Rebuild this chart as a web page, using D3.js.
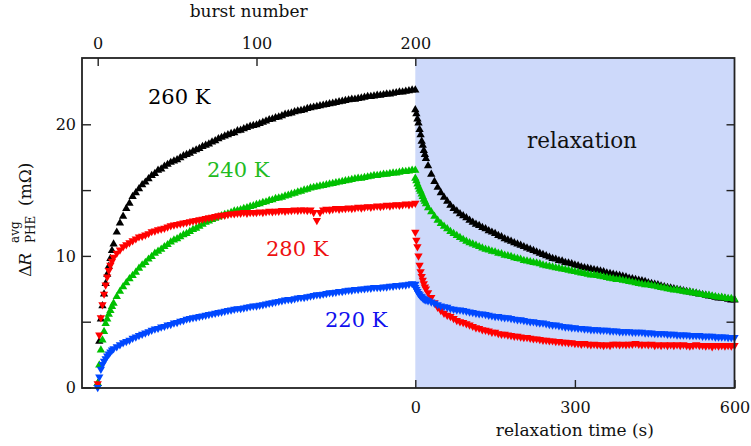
<!DOCTYPE html>
<html>
<head>
<meta charset="utf-8">
<script src="https://cdn.jsdelivr.net/npm/d3@7"></script>
<style>
  html, body { margin: 0; padding: 0; background: #fff; }
  svg { display: block; }
  text { font-family: "DejaVu Serif", serif; }
</style>
</head>
<body>
<svg id="chart" width="751" height="446"></svg>
<script>
// ---- data ----------------------------------------------------------------
// burst numbers at which the averaged PHE change was recorded
const bursts = [
  0,1,2,3,4,5,6,7,8,9,10,
  12,14,16,18,20,22,24,26,28,30,
  32,34,36,38,40,42,44,46,48,50,
  52,54,56,58,60,62,64,66,68,70,
  72,74,76,78,80,82,84,86,88,90,
  92,94,96,98,100,102,104,106,108,110,
  112,114,116,118,120,122,124,126,128,130,
  132,134,136,138,140,142,144,146,148,150,
  152,154,156,158,160,162,164,166,168,170,
  172,174,176,178,180,182,184,186,188,190,
  192,194,196,198,200
];
// relaxation times (s) after the last burst
const relaxTimes = [
  0,2,4,6,8,10,12,14,16,18,20,
  24,30,36,42,48,54,60,66,72,78,
  84,90,96,102,108,114,120,126,132,138,
  144,150,156,162,168,174,180,186,192,198,
  204,210,216,222,228,234,240,246,252,258,
  264,270,276,282,288,294,300,306,312,318,
  324,330,336,342,348,354,360,366,372,378,
  384,390,396,402,408,414,420,426,432,438,
  444,450,456,462,468,474,480,486,492,498,
  504,510,516,522,528,534,540,546,552,558,
  564,570,576,582,588,594,600
];

// ΔR (mΩ) during bursts
const burst260 = [
  0.3,3.5,5.2,6.2,7.1,7.9,8.6,9.2,9.8,10.4,10.9,
  11.8,12.5,13.0,13.6,14.0,14.5,14.8,15.1,15.4,15.6,
  15.85,16.1,16.25,16.5,16.6,16.8,16.95,17.1,17.2,17.3,
  17.45,17.6,17.7,17.8,17.95,18.05,18.15,18.3,18.4,18.5,
  18.65,18.75,18.9,19.0,19.1,19.2,19.3,19.35,19.5,19.55,
  19.65,19.75,19.85,19.9,19.95,20.05,20.15,20.25,20.35,20.4,
  20.5,20.55,20.65,20.75,20.8,20.85,20.95,21.0,21.05,21.1,
  21.2,21.25,21.3,21.35,21.4,21.45,21.5,21.55,21.6,21.65,
  21.7,21.75,21.8,21.85,21.9,21.9,21.95,22.0,22.05,22.1,
  22.1,22.15,22.2,22.2,22.25,22.3,22.3,22.35,22.4,22.45,
  22.45,22.5,22.55,22.6,22.6
];
const burst240 = [
  0.3,1.7,2.85,3.6,4.25,4.85,5.2,5.55,5.85,6.15,6.4,
  6.9,7.3,7.65,7.95,8.25,8.5,8.75,9.05,9.3,9.5,
  9.75,9.95,10.2,10.35,10.5,10.7,10.85,11.05,11.2,11.3,
  11.45,11.6,11.7,11.85,12.0,12.1,12.25,12.4,12.55,12.65,
  12.75,12.85,12.95,13.05,13.15,13.2,13.3,13.4,13.45,13.5,
  13.6,13.65,13.75,13.8,13.9,13.95,14.05,14.1,14.2,14.25,
  14.35,14.4,14.45,14.55,14.6,14.7,14.75,14.85,14.9,15.0,
  15.05,15.15,15.2,15.25,15.3,15.35,15.4,15.45,15.5,15.55,
  15.6,15.65,15.7,15.75,15.8,15.85,15.9,15.9,15.95,16.0,
  16.05,16.1,16.1,16.15,16.2,16.2,16.25,16.3,16.3,16.35,
  16.4,16.4,16.45,16.5,16.5
];
const burst280 = [
  0.3,4.0,5.3,6.3,7.1,7.8,8.4,8.9,9.3,9.6,9.9,
  10.2,10.45,10.7,10.85,11.0,11.15,11.3,11.45,11.5,11.6,
  11.7,11.85,11.9,12.0,12.05,12.1,12.2,12.3,12.35,12.4,
  12.45,12.5,12.55,12.6,12.65,12.7,12.75,12.8,12.85,12.9,
  12.95,13.0,13.05,13.1,13.1,13.15,13.2,13.2,13.25,13.25,
  13.3,13.25,13.3,13.3,13.3,13.35,13.3,13.35,13.4,13.35,
  13.4,13.4,13.45,13.4,13.45,13.45,13.5,13.45,13.5,13.5,
  13.45,13.5,13.3,12.7,13.3,13.5,13.55,13.5,13.55,13.6,
  13.55,13.6,13.6,13.65,13.6,13.65,13.7,13.65,13.7,13.75,
  13.7,13.75,13.8,13.75,13.8,13.85,13.8,13.85,13.9,13.85,
  13.9,13.95,13.9,13.95,14.0
];
const burst220 = [
  0.0,0.8,1.4,1.75,2.0,2.2,2.4,2.55,2.7,2.85,2.95,
  3.1,3.25,3.4,3.5,3.6,3.75,3.85,3.95,4.05,4.15,
  4.25,4.35,4.45,4.5,4.6,4.65,4.75,4.8,4.9,4.95,
  5.05,5.1,5.2,5.25,5.3,5.35,5.4,5.45,5.5,5.55,
  5.6,5.65,5.7,5.75,5.8,5.85,5.9,5.95,6.0,6.0,
  6.05,6.1,6.15,6.2,6.2,6.25,6.3,6.35,6.4,6.45,
  6.5,6.55,6.6,6.65,6.7,6.7,6.75,6.8,6.85,6.85,
  6.9,6.95,7.0,7.05,7.05,7.1,7.15,7.2,7.2,7.25,
  7.3,7.3,7.35,7.4,7.4,7.45,7.45,7.5,7.5,7.55,
  7.55,7.6,7.6,7.6,7.65,7.65,7.7,7.7,7.75,7.75,
  7.8,7.8,7.85,7.9,7.85
];

// ΔR (mΩ) during relaxation
const relax260 = [
  21.1,20.8,20.4,20.1,19.6,19.2,18.7,18.4,18.0,17.7,17.4,
  16.85,16.2,15.65,15.2,14.8,14.45,14.15,13.85,13.6,13.4,
  13.2,13.05,12.9,12.7,12.55,12.4,12.3,12.15,12.05,11.9,
  11.8,11.7,11.55,11.45,11.3,11.2,11.1,11.0,10.9,10.8,
  10.7,10.6,10.5,10.4,10.3,10.2,10.1,10.0,9.9,9.8,
  9.75,9.65,9.6,9.5,9.45,9.4,9.3,9.25,9.15,9.1,
  9.05,9.0,8.95,8.9,8.85,8.8,8.7,8.65,8.6,8.55,
  8.5,8.45,8.4,8.3,8.25,8.2,8.15,8.1,8.05,7.95,
  7.9,7.85,7.8,7.7,7.65,7.6,7.55,7.5,7.45,7.4,
  7.35,7.3,7.25,7.2,7.15,7.1,7.05,7.0,6.95,6.9,
  6.85,6.8,6.8,6.75,6.7,6.65,6.65
];
const relax240 = [
  15.9,15.7,15.45,15.25,15.05,14.9,14.7,14.5,14.3,14.15,13.95,
  13.65,13.35,13.0,12.7,12.45,12.25,12.05,11.85,11.7,11.55,
  11.4,11.25,11.1,11.0,10.9,10.8,10.7,10.6,10.5,10.45,
  10.35,10.3,10.2,10.15,10.05,10.0,9.95,9.85,9.8,9.75,
  9.65,9.6,9.55,9.5,9.45,9.4,9.3,9.25,9.2,9.15,
  9.1,9.05,9.0,8.95,8.9,8.85,8.8,8.75,8.7,8.65,
  8.6,8.55,8.55,8.5,8.45,8.4,8.35,8.3,8.25,8.2,
  8.2,8.15,8.1,8.05,8.0,7.95,7.9,7.85,7.8,7.8,
  7.75,7.7,7.65,7.6,7.55,7.5,7.45,7.4,7.4,7.35,
  7.3,7.25,7.25,7.2,7.15,7.1,7.05,7.0,7.0,6.95,
  6.9,6.85,6.85,6.8,6.75,6.75,6.7
];
const relax280 = [
  11.8,11.2,10.7,10.0,9.3,8.8,8.45,8.15,7.9,7.65,7.5,
  7.2,6.85,6.45,6.1,5.85,5.65,5.5,5.4,5.25,5.1,
  5.0,4.95,4.85,4.75,4.65,4.55,4.5,4.4,4.35,4.3,
  4.2,4.2,4.1,4.05,4.05,4.0,3.95,3.9,3.9,3.85,
  3.8,3.8,3.75,3.7,3.7,3.65,3.6,3.6,3.55,3.55,
  3.5,3.5,3.45,3.45,3.4,3.4,3.35,3.35,3.3,3.35,
  3.3,3.25,3.3,3.25,3.25,3.2,3.25,3.2,3.3,3.3,
  3.25,3.3,3.25,3.3,3.3,3.35,3.3,3.25,3.3,3.25,
  3.3,3.2,3.25,3.2,3.25,3.2,3.25,3.2,3.25,3.2,
  3.25,3.2,3.15,3.2,3.25,3.2,3.2,3.15,3.2,3.1,
  3.2,3.15,3.2,3.15,3.2,3.15,3.2
];
const relax220 = [
  7.6,7.45,7.3,7.15,7.05,6.95,6.9,6.8,6.75,6.7,6.65,
  6.6,6.5,6.4,6.3,6.2,6.15,6.1,6.0,5.95,5.9,
  5.9,5.85,5.8,5.75,5.7,5.65,5.6,5.6,5.55,5.5,
  5.45,5.4,5.4,5.35,5.3,5.3,5.25,5.2,5.15,5.15,
  5.1,5.05,5.0,5.0,4.95,4.9,4.9,4.85,4.8,4.75,
  4.75,4.7,4.65,4.6,4.6,4.55,4.55,4.5,4.5,4.45,
  4.45,4.4,4.4,4.4,4.35,4.35,4.35,4.3,4.3,4.3,
  4.25,4.25,4.25,4.25,4.2,4.2,4.2,4.2,4.15,4.15,
  4.15,4.1,4.1,4.1,4.1,4.05,4.05,4.05,4.0,4.0,
  4.0,4.0,3.95,3.95,3.95,3.95,3.9,3.9,3.9,3.9,
  3.85,3.85,3.85,3.85,3.8,3.8,3.8
];

const seriesLabels = ["260 K", "240 K", "280 K", "220 K"];
const seriesColors = ["#000000", "#00c000", "#ff0000", "#0048ff"];
const labelColors  = ["#000000", "#22bb22", "#ee1111", "#1010ee"];
const seriesUp     = [true, true, false, false];   // marker orientation
const burstSeries  = [burst260, burst240, burst280, burst220];
const relaxSeries  = [relax260, relax240, relax280, relax220];

const burstTicks = [0, 100, 200];
const timeTicks  = [0, 300, 600];
const yTicks     = [0, 5, 10, 15, 20];
const yLabelled  = [0, 10, 20];

// ---- layout ----------------------------------------------------------------
const frame = { left: 82, right: 734.5, top: 58, bottom: 388 };
const svg = d3.select("#chart");

const xBurst = d3.scaleLinear().domain([0, 200]).range([97.7, 415.3]);
const xTime  = d3.scaleLinear().domain([0, 600]).range([415.3, 734.5]);
const y      = d3.scaleLinear().domain([0, 25]).range([387.5, 58.5]);

// relaxation region shading
svg.append("rect")
  .attr("x", xTime(0)).attr("y", frame.top)
  .attr("width", xTime(600) - xTime(0))
  .attr("height", frame.bottom - frame.top)
  .attr("fill", "#cdd9fa");

// ---- markers ---------------------------------------------------------------
const tri = d3.symbol().type(d3.symbolTriangle).size(30);
const plot = svg.append("g");

burstSeries.forEach((vals, i) => {
  const pts = bursts.map((b, k) => [xBurst(b), y(vals[k])])
    .concat(relaxTimes.map((t, k) => [xTime(t), y(relaxSeries[i][k])]));
  plot.append("g")
    .attr("fill", seriesColors[i])
    .selectAll("path")
    .data(pts)
    .join("path")
    .attr("d", tri)
    .attr("transform", d => `translate(${d[0]},${d[1]})` + (seriesUp[i] ? "" : " rotate(180)"));
});

// ---- axes ------------------------------------------------------------------
const axisColor = "#222";
function styleAxis(g, fontSize) {
  g.attr("font-family", null);
  g.select(".domain").remove();
  g.selectAll(".tick line").attr("stroke", axisColor).attr("stroke-width", 1.4);
  g.selectAll(".tick text")
    .attr("fill", "#111")
    .style("font-family", "'DejaVu Serif', serif")
    .style("font-size", fontSize + "px");
}

svg.append("g")
  .attr("transform", `translate(0,${frame.top})`)
  .call(d3.axisTop(xBurst).tickValues(burstTicks).tickSize(-8).tickPadding(9))
  .call(g => styleAxis(g, 16));

svg.append("g")
  .attr("transform", `translate(0,${frame.bottom})`)
  .call(d3.axisBottom(xTime).tickValues(timeTicks).tickSize(-8).tickPadding(14))
  .call(g => styleAxis(g, 16));

svg.append("g")
  .attr("transform", `translate(${frame.left},0)`)
  .call(d3.axisLeft(y).tickValues(yTicks).tickSize(-9).tickPadding(6)
    .tickFormat(d => yLabelled.includes(d) ? d : ""))
  .call(g => styleAxis(g, 16));

svg.append("g")
  .attr("transform", `translate(${frame.right},0)`)
  .call(d3.axisRight(y).tickValues(yTicks.filter(d => d > 0)).tickSize(-8).tickFormat(""))
  .call(g => styleAxis(g, 16));

// frame
svg.append("rect")
  .attr("x", frame.left).attr("y", frame.top)
  .attr("width", frame.right - frame.left)
  .attr("height", frame.bottom - frame.top)
  .attr("fill", "none").attr("stroke", axisColor).attr("stroke-width", 1.8);

// ---- titles ----------------------------------------------------------------
svg.append("text")
  .attr("x", (frame.left + xBurst(200)) / 2).attr("y", 17)
  .attr("text-anchor", "middle").style("font-size", "17px").attr("fill", "#111")
  .text("burst number");

svg.append("text")
  .attr("x", xTime(300)).attr("y", 436)
  .attr("text-anchor", "middle").style("font-size", "17px").attr("fill", "#111")
  .text("relaxation time (s)");

// y-axis title: ΔR with stacked sub/superscript, then unit
const yt = svg.append("g").attr("transform", "translate(31,277) rotate(-90)");
yt.append("text").attr("x", 0).attr("y", 0).style("font-size", "17px").attr("fill", "#111")
  .text("Δ")
  .append("tspan").attr("dx", -1).style("font-style", "italic").text("R");
yt.append("text").attr("x", 34).attr("y", 4).style("font-size", "12px").attr("fill", "#111")
  .text("PHE");
yt.append("text").attr("x", 34).attr("y", -12).style("font-size", "12px").attr("fill", "#111")
  .text("avg");
yt.append("text").attr("x", 71).attr("y", 0).style("font-size", "17px").attr("fill", "#111")
  .text("(mΩ)");

// ---- annotations -----------------------------------------------------------
const labelPos = [[148, 104], [207, 176.5], [266, 255.5], [325, 327]];
seriesLabels.forEach((s, i) => {
  svg.append("text")
    .attr("x", labelPos[i][0]).attr("y", labelPos[i][1])
    .style("font-size", "21px").attr("fill", labelColors[i])
    .text(s);
});
svg.append("text")
  .attr("x", 527).attr("y", 148)
  .style("font-size", "21.5px").attr("fill", "#111")
  .text("relaxation");
</script>
</body>
</html>
